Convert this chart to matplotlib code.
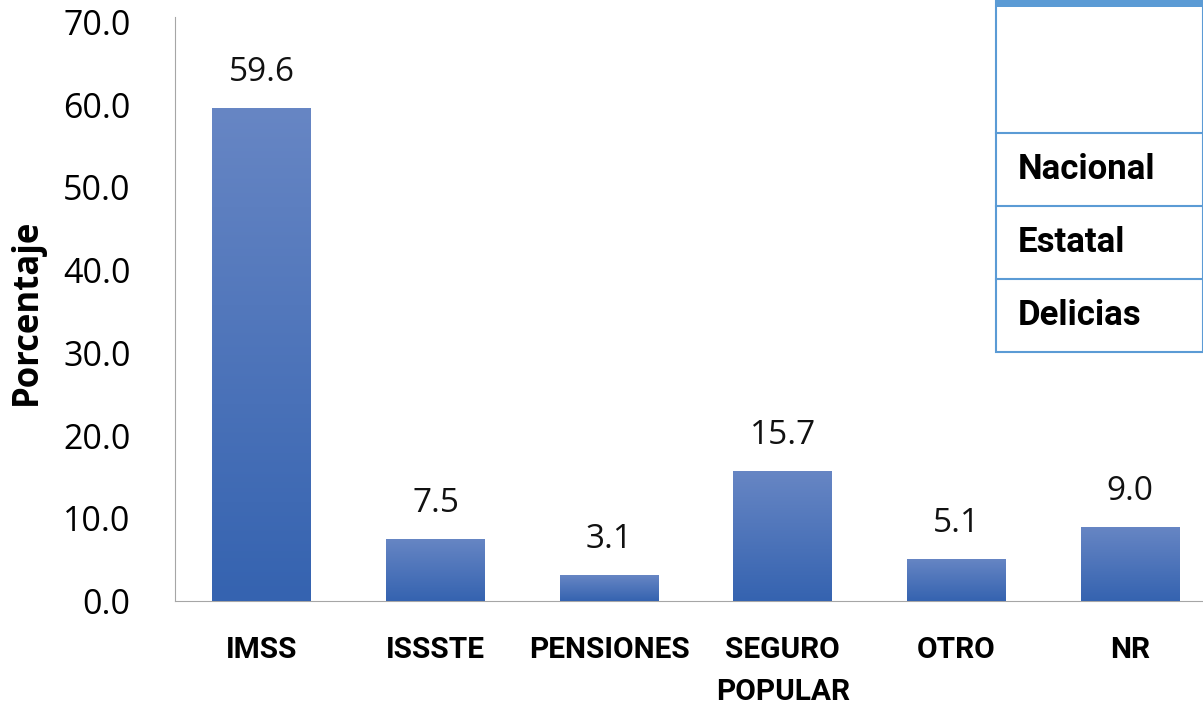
import numpy as np
import matplotlib.pyplot as plt
from matplotlib.patches import Rectangle
from matplotlib.colors import LinearSegmentedColormap

categories = ['IMSS', 'ISSSTE', 'PENSIONES', 'SEGURO\nPOPULAR', 'OTRO', 'NR']
values = [59.6, 7.5, 3.1, 15.7, 5.1, 9.0]
yticks = [0, 10, 20, 30, 40, 50, 60, 70]
table_rows = ['Nacional', 'Estatal', 'Delicias']

narrow = ['Roboto', 'DejaVu Sans']
plain = ['Open Sans', 'DejaVu Sans']

fig = plt.figure(figsize=(12.03, 7.08), dpi=100)
# axes extends past the right edge, like the cropped original
ax = fig.add_axes([175 / 1203, 1 - 601 / 708, 1042 / 1203, 579 / 708])

x = np.arange(len(categories))
bars = ax.bar(x, values, width=0.57, color='#4a72bb', zorder=2)

# vertical gradient on each bar
grad = np.linspace(0, 1, 256).reshape(-1, 1)
cmap = LinearSegmentedColormap.from_list('g', ['#3563b0', '#6786c4'])
for b in bars:
    bx, by = b.get_x(), b.get_y()
    w, h = b.get_width(), b.get_height()
    im = ax.imshow(grad, extent=[bx, bx + w, by, by + h], origin='lower',
                   aspect='auto', cmap=cmap, zorder=3)
    im.set_clip_path(b)

for i, v in enumerate(values):
    ax.text(i, v + 2.3, f'{v:.1f}', ha='center', va='bottom',
            fontsize=24, family=plain, color='#111111')

ax.set_xlim(-0.5, 5.5)
ax.set_ylim(0, 70)
ax.set_yticks(yticks)
ax.set_yticklabels([f'{t:.1f}' for t in yticks], fontsize=24.5, family=plain)
ax.set_xticks(x)
ax.set_xticklabels(categories, fontsize=21.5, family=narrow, fontweight='bold',
                   va='top', linespacing=1.65)
ax.tick_params(axis='x', length=0, pad=25)
ax.tick_params(axis='y', length=0, pad=32)
ax.set_ylabel('Porcentaje', fontsize=25, fontweight='bold', family=plain)
ax.yaxis.set_label_coords(-0.125, 0.5)

for s in ['top', 'right']:
    ax.spines[s].set_visible(False)
ax.spines['left'].set_color('#a6a6a6')
ax.spines['bottom'].set_color('#a6a6a6')
ax.spines['left'].set_bounds(0, 70.6)

# the partial table in the upper right
W, H = 1203, 708
def fx(px):
    return px / W
def fy(py):
    return 1 - py / H

blue = '#5b9bd5'
fig.add_artist(Rectangle((fx(996), fy(352)), fx(1203) - fx(996), fy(0) - fy(352),
                         transform=fig.transFigure, facecolor='white',
                         edgecolor=blue, linewidth=1.5, zorder=5))
fig.add_artist(Rectangle((fx(996), fy(7)), fx(1203) - fx(996), fy(0) - fy(7),
                         transform=fig.transFigure, facecolor=blue,
                         edgecolor='none', zorder=6))
row_edges = [133, 206, 279, 352]
for yy in row_edges[:-1]:
    fig.add_artist(plt.Line2D([fx(996), fx(1203)], [fy(yy), fy(yy)],
                              transform=fig.transFigure, color=blue, lw=1.5, zorder=6))
for i, name in enumerate(table_rows):
    yc = (row_edges[i] + row_edges[i + 1]) / 2
    fig.text(fx(1018), fy(yc), name, ha='left', va='center', fontsize=25,
             fontweight='bold', family=narrow, zorder=7)

fig.savefig('out.png', dpi=100)
